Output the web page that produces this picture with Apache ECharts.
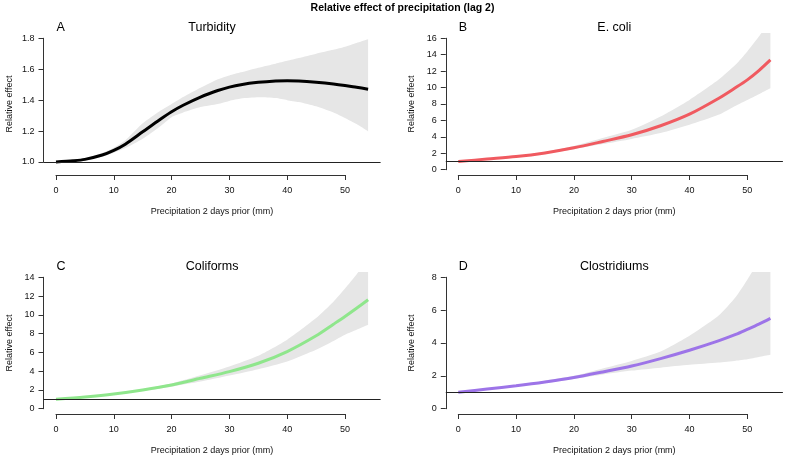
<!DOCTYPE html>
<html><head><meta charset="utf-8">
<script src="https://cdn.jsdelivr.net/npm/echarts@6/dist/echarts.min.js"></script>
<style>html,body{margin:0;padding:0;background:#fff}#c{width:787px;height:460px}</style>
</head><body><div id="c"></div>
<script>
// ---------- data ----------
const mainTitle = 'Relative effect of precipitation (lag 2)';
const xLabel = 'Precipitation 2 days prior (mm)';
const yLabel = 'Relative effect';
const panelLetters = ['A', 'B', 'C', 'D'];
const panelNames = ['Turbidity', 'E. coli', 'Coliforms', 'Clostridiums'];

const xTurbidity = [0, 3, 5, 8, 10, 12, 15, 18, 20, 22, 25, 28, 30, 32, 35, 38, 40, 42, 45, 48, 50, 52, 54];
const turbidityFit   = [1.000, 1.008, 1.017, 1.045, 1.075, 1.115, 1.195, 1.275, 1.325, 1.367, 1.420, 1.462, 1.484, 1.500, 1.515, 1.524, 1.526, 1.524, 1.516, 1.505, 1.495, 1.483, 1.471];
const turbidityUpper = [1.000, 1.010, 1.022, 1.058, 1.092, 1.140, 1.250, 1.330, 1.375, 1.420, 1.480, 1.535, 1.560, 1.580, 1.610, 1.636, 1.654, 1.672, 1.700, 1.725, 1.745, 1.770, 1.794];
const turbidityLower = [1.000, 1.006, 1.012, 1.035, 1.060, 1.090, 1.150, 1.230, 1.290, 1.320, 1.355, 1.375, 1.395, 1.410, 1.418, 1.413, 1.400, 1.388, 1.360, 1.320, 1.285, 1.245, 1.198];

const xBacteria = [0, 5, 10, 15, 20, 25, 30, 35, 40, 45, 48, 50, 52, 54];
const ecoliFit   = [1.00, 1.30, 1.60, 2.05, 2.67, 3.44, 4.25, 5.35, 6.76, 8.67, 10.00, 10.94, 12.07, 13.37];
const ecoliUpper = [1.00, 1.35, 1.70, 2.20, 2.90, 3.85, 4.86, 6.48, 8.50, 10.94, 12.80, 14.40, 16.20, 18.20];
const ecoliLower = [1.00, 1.25, 1.50, 1.95, 2.50, 3.12, 3.75, 4.46, 5.47, 6.68, 7.80, 8.50, 9.20, 9.92];

const coliformsFit   = [1.00, 1.25, 1.57, 2.00, 2.53, 3.24, 3.95, 4.84, 6.09, 7.77, 9.00, 9.83, 10.70, 11.61];
const coliformsUpper = [1.00, 1.30, 1.65, 2.10, 2.70, 3.56, 4.49, 5.63, 7.34, 9.65, 11.40, 12.80, 14.30, 15.90];
const coliformsLower = [1.00, 1.20, 1.50, 1.90, 2.35, 2.89, 3.53, 4.20, 5.02, 6.27, 7.20, 7.87, 8.40, 8.94];

const clostridiumsFit   = [1.00, 1.20, 1.40, 1.63, 1.90, 2.24, 2.60, 3.05, 3.56, 4.13, 4.52, 4.83, 5.15, 5.50];
const clostridiumsUpper = [1.00, 1.22, 1.46, 1.71, 2.00, 2.45, 2.91, 3.48, 4.44, 5.66, 6.80, 7.85, 9.00, 10.20];
const clostridiumsLower = [1.00, 1.18, 1.35, 1.56, 1.81, 2.08, 2.32, 2.50, 2.67, 2.81, 2.92, 3.01, 3.15, 3.28];

const xTicks = [0, 10, 20, 30, 40, 50];
const yTicksTurbidity = [1.0, 1.2, 1.4, 1.6, 1.8];
const yTicksEcoli = [0, 2, 4, 6, 8, 10, 12, 14, 16];
const yTicksColiforms = [0, 2, 4, 6, 8, 10, 12, 14];
const yTicksClostridiums = [0, 2, 4, 6, 8];
const referenceLevel = 1;

// ---------- layout / style ----------
const FONT = '"Liberation Sans", Arial, Helvetica, sans-serif';
const xDataRange = [0, 54];
const panels = [
  { x: xTurbidity, fit: turbidityFit, up: turbidityUpper, lo: turbidityLower, yTicks: yTicksTurbidity, yLim: [0.95, 1.8], dec: 1,
    left: 43.5, top: 33, color: '#000000' },
  { x: xBacteria, fit: ecoliFit, up: ecoliUpper, lo: ecoliLower, yTicks: yTicksEcoli, yLim: [0, 16], dec: 0,
    left: 445.8, top: 33, color: '#F05A60' },
  { x: xBacteria, fit: coliformsFit, up: coliformsUpper, lo: coliformsLower, yTicks: yTicksColiforms, yLim: [0, 14], dec: 0,
    left: 43.5, top: 272, color: '#8FE68C' },
  { x: xBacteria, fit: clostridiumsFit, up: clostridiumsUpper, lo: clostridiumsLower, yTicks: yTicksClostridiums, yLim: [0, 8], dec: 0,
    left: 445.8, top: 272, color: '#9D74E8' }
];
const regionW = 337.1, regionH = 142;
const ext = 0.04;

const grid = [], xAxis = [], yAxis = [], series = [], title = [];
title.push({ text: mainTitle, left: 402.5, top: 8, textAlign: 'center', textVerticalAlign: 'middle', padding: 0,
  textStyle: { fontFamily: FONT, fontSize: 10.5, fontWeight: 'bold', color: '#000' } });

panels.forEach((p, i) => {
  const xr = xDataRange[1] - xDataRange[0];
  const xMin = xDataRange[0] - ext * xr, xMax = xDataRange[1] + ext * xr;
  const yr = p.yLim[1] - p.yLim[0];
  const yMin = p.yLim[0] - ext * yr, yMax = p.yLim[1] + ext * yr;
  const pxPerX = regionW / (xMax - xMin);
  const pxPerY = regionH / (yMax - yMin);
  const t0 = xTicks[0], t1 = xTicks[xTicks.length - 1];
  const y0 = p.yTicks[0], y1 = p.yTicks[p.yTicks.length - 1];

  const g = grid.length;
  // data grid
  grid.push({ left: p.left, top: p.top, width: regionW, height: regionH, containLabel: false });
  xAxis.push({ gridIndex: g, type: 'value', min: xMin, max: xMax, show: true,
    axisLine: { show: false }, axisTick: { show: false }, axisLabel: { show: false }, splitLine: { show: false },
    name: xLabel, nameLocation: 'middle', nameGap: 32,
    nameTextStyle: { fontFamily: FONT, fontSize: 9, color: '#111' } });
  yAxis.push({ gridIndex: g, type: 'value', min: yMin, max: yMax, show: true,
    axisLine: { show: false }, axisTick: { show: false }, axisLabel: { show: false }, splitLine: { show: false },
    name: yLabel, nameLocation: 'middle', nameGap: 29.5,
    nameTextStyle: { fontFamily: FONT, fontSize: 9, color: '#111' } });
  // x axis grid (line only from first to last tick)
  grid.push({ left: p.left + (t0 - xMin) * pxPerX, top: p.top, width: (t1 - t0) * pxPerX, height: regionH });
  xAxis.push({ gridIndex: g + 1, type: 'value', min: t0, max: t1, interval: xTicks[1] - xTicks[0], position: 'bottom',
    axisLine: { show: true, onZero: false, lineStyle: { color: '#333', width: 1 } },
    axisTick: { show: true, length: 5, lineStyle: { color: '#333' } },
    axisLabel: { show: true, margin: 11, fontFamily: FONT, fontSize: 9, color: '#111', showMinLabel: true, showMaxLabel: true },
    splitLine: { show: false } });
  yAxis.push({ gridIndex: g + 1, type: 'value', min: 0, max: 1, show: false });
  // y axis grid (line only from first to last tick)
  grid.push({ left: p.left, top: p.top + (yMax - y1) * pxPerY, width: regionW, height: (y1 - y0) * pxPerY });
  xAxis.push({ gridIndex: g + 2, type: 'value', min: 0, max: 1, show: false });
  yAxis.push({ gridIndex: g + 2, type: 'value', min: y0, max: y1, interval: p.yTicks[1] - p.yTicks[0], position: 'left',
    axisLine: { show: true, onZero: false, lineStyle: { color: '#333', width: 1 } },
    axisTick: { show: true, length: 5, lineStyle: { color: '#333' } },
    axisLabel: { show: true, margin: 9, fontFamily: FONT, fontSize: 9, color: '#111', showMinLabel: true, showMaxLabel: true,
      formatter: v => Number(v).toFixed(p.dec) },
    splitLine: { show: false } });

  // confidence band as one polygon through the axis scales
  series.push({ type: 'custom', xAxisIndex: g, yAxisIndex: g, silent: true, clip: true, z: 1,
    data: p.x.map((xv, k) => [xv, p.up[k], p.lo[k]]),
    encode: { x: 0, y: [1, 2] },
    renderItem: (params, api) => {
      if (params.dataIndex !== 0) return null;
      const upPts = p.x.map((xv, k) => api.coord([xv, p.up[k]]));
      const loPts = p.x.map((xv, k) => api.coord([xv, p.lo[k]])).reverse();
      // repeat the end vertices so the smoothed outline keeps sharp corners at the band ends
      const pts = upPts.concat([upPts[upPts.length - 1]], [loPts[0]], loPts);
      const cs = params.coordSys;
      return { type: 'group', children: [
        { type: 'polygon', shape: { points: pts, smooth: 0.2 }, style: { fill: '#E6E6E6', stroke: null } }
      ], clipPath: { type: 'rect', shape: { x: cs.x, y: cs.y, width: cs.width, height: cs.height } } };
    } });
  // fitted curve + reference line
  series.push({ type: 'line', xAxisIndex: g, yAxisIndex: g, symbol: 'none', smooth: 0.3, silent: true,
    lineStyle: { color: p.color, width: 3 }, data: p.x.map((xv, k) => [xv, p.fit[k]]), z: 2,
    markLine: { silent: true, symbol: 'none', label: { show: false },
      lineStyle: { color: '#222', width: 1, type: 'solid' }, data: [{ yAxis: referenceLevel }] } });

  // panel letter + name
  const midX = p.left + regionW / 2;
  const ty = p.top - 5 + (i >= 2 ? -0.5 : 0);
  title.push({ text: panelLetters[i], left: p.left + (t0 - xMin) * pxPerX + 0.5, top: ty, textAlign: 'left', textVerticalAlign: 'middle', padding: 0,
    textStyle: { fontFamily: FONT, fontSize: 12.5, fontWeight: 'normal', color: '#000' } });
  title.push({ text: panelNames[i], left: midX, top: ty, textAlign: 'center', textVerticalAlign: 'middle', padding: 0,
    textStyle: { fontFamily: FONT, fontSize: 12.5, fontWeight: 'normal', color: '#000' } });
});

const chart = echarts.init(document.getElementById('c'), null, { renderer: 'canvas' });
chart.setOption({ animation: false, backgroundColor: '#fff', title, grid, xAxis, yAxis, series });
</script>
</body></html>
